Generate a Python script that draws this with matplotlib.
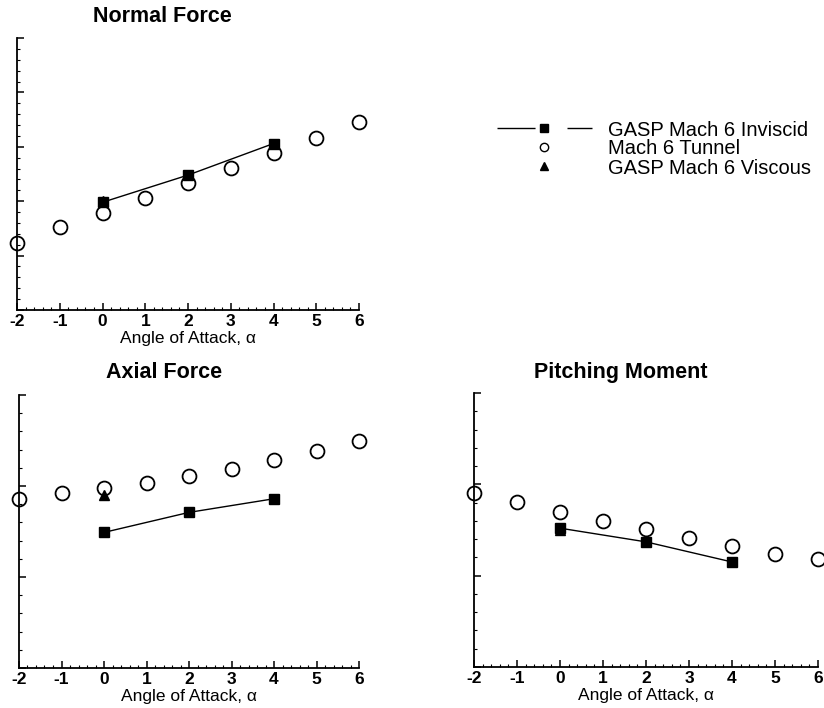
import numpy as np
import matplotlib
matplotlib.use("Agg")
import matplotlib.pyplot as plt
from matplotlib.lines import Line2D
from matplotlib.ticker import MultipleLocator

plt.rcParams['font.family'] = ['Liberation Sans', 'DejaVu Sans']

# Data (arbitrary y units, no y labels shown)
alpha_tunnel = [-2, -1, 0, 1, 2, 3, 4, 5, 6]
alpha_inviscid = [0, 2, 4]
alpha_viscous = [0]

normal_tunnel = [1.23, 1.52, 1.79, 2.06, 2.33, 2.61, 2.89, 3.16, 3.45]
normal_inviscid = [1.98, 2.48, 3.06]
normal_viscous = [2.01]

axial_tunnel = [1.86, 1.92, 1.98, 2.03, 2.11, 2.19, 2.29, 2.39, 2.49]
axial_inviscid = [1.49, 1.71, 1.86]
axial_viscous = [1.90]

pitch_tunnel = [1.90, 1.81, 1.70, 1.60, 1.51, 1.41, 1.32, 1.24, 1.18]
pitch_inviscid = [1.52, 1.37, 1.15]
pitch_viscous = [1.50]

W, H = 824, 708
fig = plt.figure(figsize=(W / 100, H / 100), dpi=100)


def px_axes(left, right, top, bottom):
    return fig.add_axes([left / W, (H - bottom) / H, (right - left) / W, (bottom - top) / H])


def style(ax, ymax):
    ax.set_xlim(-2, 6)
    ax.set_ylim(0, ymax)
    for s in ['top', 'right']:
        ax.spines[s].set_visible(False)
    for s in ['left', 'bottom']:
        ax.spines[s].set_linewidth(1.3)
    ax.xaxis.set_major_locator(MultipleLocator(1))
    ax.xaxis.set_minor_locator(MultipleLocator(0.2))
    ax.yaxis.set_major_locator(MultipleLocator(1))
    ax.yaxis.set_minor_locator(MultipleLocator(0.2))
    ax.tick_params(which='major', direction='in', length=5, width=1.1, pad=3)
    ax.tick_params(which='minor', direction='in', length=2.5, width=0.8)
    ax.tick_params(axis='y', which='both', labelleft=False)
    ax.set_xticks(range(-2, 7))
    ax.set_xticklabels([str(v) for v in range(-2, 7)], fontsize=12.5, fontweight='bold')
    ax.set_xlabel('Angle of Attack, \u03b1', fontsize=12.5, labelpad=1)


def draw(ax, tunnel, inviscid, viscous):
    ax.plot(alpha_tunnel, tunnel, 'o', ms=10, mfc='none', mec='k', mew=1.3, clip_on=False)
    ax.plot(alpha_inviscid, inviscid, '-s', color='k', lw=1, ms=6.5, clip_on=False)
    ax.plot(alpha_viscous, viscous, '^', color='k', ms=7.5, clip_on=False)


ax1 = px_axes(17, 359, 38, 310)
ax2 = px_axes(19, 359, 395, 668)
ax3 = px_axes(474, 818, 393, 667)

style(ax1, 5)
style(ax2, 3)
style(ax3, 3)

draw(ax1, normal_tunnel, normal_inviscid, normal_viscous)
draw(ax2, axial_tunnel, axial_inviscid, axial_viscous)
draw(ax3, pitch_tunnel, pitch_inviscid, pitch_viscous)

fig.text(162 / W, 1 - 16 / H, 'Normal Force', ha='center', va='center', fontsize=15.5, fontweight='bold')
fig.text(164 / W, 1 - 373 / H, 'Axial Force', ha='center', va='center', fontsize=15.5, fontweight='bold')
fig.text(621 / W, 1 - 372 / H, 'Pitching Moment', ha='center', va='center', fontsize=15.5, fontweight='bold')

# legend with proxy handles (line - square - gap - line)
h_inv = Line2D([], [], color='k', lw=1, ls=(0, (27.4, 23, 18, 60)), marker='s', ms=5.5)
h_tun = Line2D([], [], ls='none', marker='o', ms=6, mfc='none', mec='k', mew=1)
h_vis = Line2D([], [], ls='none', marker='^', ms=6, color='k')
fig.legend([h_inv, h_tun, h_vis],
           ['GASP Mach 6 Inviscid', 'Mach 6 Tunnel', 'GASP Mach 6 Viscous'],
           loc='center left', bbox_to_anchor=(497 / W, 1 - 149 / H),
           frameon=False, fontsize=14.5, numpoints=1, handlelength=4.7,
           handletextpad=0.8, borderpad=0, borderaxespad=0, labelspacing=0.0)

fig.savefig('out.png', dpi=100)
